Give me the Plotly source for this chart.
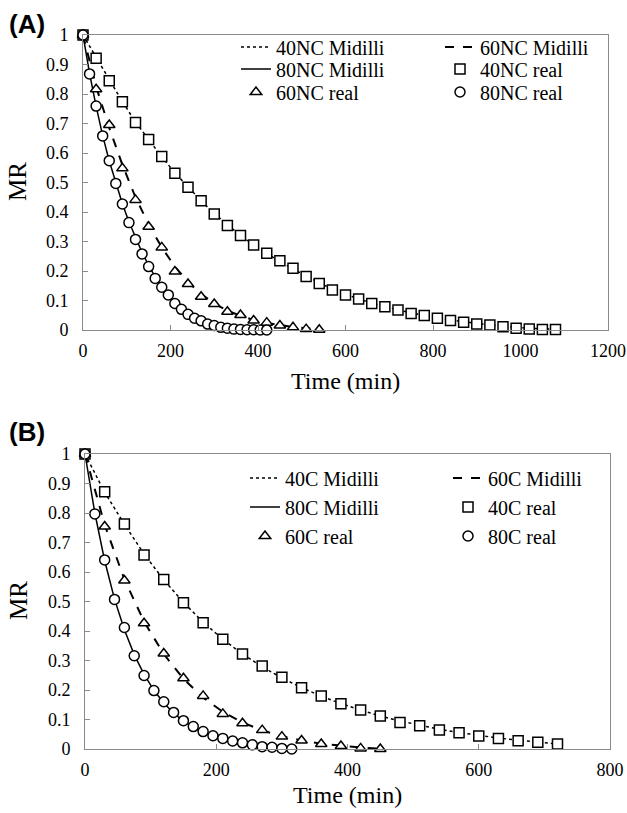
import plotly.graph_objects as go

W, H = 627, 813

# ---------------- Panel A data ----------------
t_40nc = list(range(0, 1110, 30))
mr_40nc_real = [1.0, 0.921, 0.845, 0.774, 0.703, 0.646, 0.588, 0.531, 0.484, 0.438,
                0.393, 0.354, 0.320, 0.288, 0.260, 0.235, 0.209, 0.181, 0.158, 0.136,
                0.119, 0.105, 0.090, 0.079, 0.068, 0.056, 0.049, 0.040, 0.032, 0.026,
                0.020, 0.017, 0.011, 0.006, 0.003, 0.002, 0.002]
mr_40nc_midilli = [1.0, 0.925, 0.847, 0.774, 0.705, 0.644, 0.587, 0.533, 0.484, 0.438,
                   0.395, 0.356, 0.320, 0.288, 0.259, 0.232, 0.207, 0.183, 0.160, 0.139,
                   0.121, 0.105, 0.091, 0.079, 0.068, 0.058, 0.049, 0.041, 0.034, 0.028,
                   0.022, 0.017, 0.013, 0.009, 0.006, 0.004, 0.003]

t_60nc = list(range(0, 570, 30))
mr_60nc_real = [1.0, 0.816, 0.695, 0.548, 0.441, 0.350, 0.280, 0.198, 0.156, 0.113,
                0.088, 0.062, 0.051, 0.032, 0.025, 0.015, 0.009, 0.003, 0.001]
mr_60nc_midilli = [1.0, 0.825, 0.685, 0.560, 0.450, 0.358, 0.280, 0.215, 0.163, 0.122,
                   0.090, 0.066, 0.048, 0.034, 0.024, 0.016, 0.010, 0.006, 0.003]

t_80nc = list(range(0, 435, 15))
mr_80nc_real = [1.0, 0.868, 0.759, 0.658, 0.574, 0.497, 0.427, 0.364, 0.307, 0.258,
                0.215, 0.175, 0.145, 0.119, 0.090, 0.070, 0.053, 0.040, 0.031, 0.020,
                0.015, 0.009, 0.006, 0.003, 0.002, 0.001, 0.001, 0.0, 0.0]
mr_80nc_midilli = [1.0, 0.870, 0.758, 0.659, 0.573, 0.496, 0.428, 0.367, 0.312, 0.263,
                   0.219, 0.180, 0.147, 0.118, 0.093, 0.072, 0.055, 0.041, 0.030, 0.021,
                   0.014, 0.009, 0.006, 0.004, 0.002, 0.001, 0.001, 0.0, 0.0]

# ---------------- Panel B data ----------------
t_40c = list(range(0, 750, 30))
mr_40c_real = [1.0, 0.872, 0.763, 0.658, 0.575, 0.496, 0.428, 0.372, 0.322, 0.281,
               0.243, 0.208, 0.180, 0.153, 0.132, 0.112, 0.090, 0.079, 0.064, 0.055,
               0.044, 0.036, 0.028, 0.023, 0.017]
mr_40c_midilli = [1.0, 0.870, 0.762, 0.661, 0.573, 0.497, 0.430, 0.372, 0.322, 0.279,
                  0.241, 0.208, 0.179, 0.154, 0.132, 0.112, 0.095, 0.080, 0.067, 0.056,
                  0.046, 0.037, 0.030, 0.023, 0.017]

t_60c = list(range(0, 480, 30))
mr_60c_real = [1.0, 0.754, 0.571, 0.426, 0.324, 0.240, 0.180, 0.119, 0.087, 0.064,
               0.042, 0.029, 0.017, 0.010, 0.002, 0.0]
mr_60c_midilli = [1.0, 0.760, 0.575, 0.432, 0.322, 0.238, 0.174, 0.126, 0.090, 0.063,
                  0.043, 0.029, 0.018, 0.011, 0.005, 0.001]

t_80c = list(range(0, 330, 15))
mr_80c_real = [1.0, 0.797, 0.641, 0.507, 0.412, 0.316, 0.249, 0.198, 0.160, 0.124,
               0.096, 0.076, 0.059, 0.045, 0.036, 0.027, 0.021, 0.014, 0.008, 0.006,
               0.002, 0.0]
mr_80c_midilli = [1.0, 0.800, 0.638, 0.508, 0.404, 0.320, 0.253, 0.199, 0.156, 0.122,
                  0.095, 0.073, 0.056, 0.043, 0.032, 0.024, 0.017, 0.012, 0.008, 0.005,
                  0.003, 0.001]

x_ticks_a = [0, 200, 400, 600, 800, 1000, 1200]
x_ticks_b = [0, 200, 400, 600, 800]
y_ticks = [0, 0.1, 0.2, 0.3, 0.4, 0.5, 0.6, 0.7, 0.8, 0.9, 1]
y_tick_text = ["0", "0.1", "0.2", "0.3", "0.4", "0.5", "0.6", "0.7", "0.8", "0.9", "1"]

SERIF = "Liberation Serif, Times New Roman, serif"
SANS = "Liberation Sans, Arial, sans-serif"

def px_x(p):
    return p / W

def px_y(p):
    return 1 - p / H

fig = go.Figure()

def line_trace(x, y, name, dash, width, xa, ya, legend):
    return go.Scatter(x=x, y=y, mode="lines", name=name,
                      line=dict(color="black", dash=dash, width=width),
                      xaxis=xa, yaxis=ya, legend=legend, cliponaxis=False)

def marker_trace(x, y, name, symbol, size, xa, ya, legend):
    return go.Scatter(x=x, y=y, mode="markers", name=name,
                      marker=dict(symbol=symbol, size=size, color="white",
                                  line=dict(color="black", width=1.5)),
                      xaxis=xa, yaxis=ya, legend=legend, cliponaxis=False)

# Panel A
fig.add_trace(line_trace(t_40nc, mr_40nc_midilli, "40NC Midilli", "dot", 1.5, "x", "y", "legend"))
fig.add_trace(line_trace(t_60nc, mr_60nc_midilli, "60NC Midilli", "dash", 2, "x", "y", "legend2"))
fig.add_trace(line_trace(t_80nc, mr_80nc_midilli, "80NC Midilli", "solid", 1.5, "x", "y", "legend3"))
fig.add_trace(marker_trace(t_40nc, mr_40nc_real, "40NC real", "square", 10, "x", "y", "legend4"))
fig.add_trace(marker_trace(t_60nc, mr_60nc_real, "60NC real", "triangle-up", 10, "x", "y", "legend5"))
fig.add_trace(marker_trace(t_80nc, mr_80nc_real, "80NC real", "circle", 10, "x", "y", "legend6"))

# Panel B
fig.add_trace(line_trace(t_40c, mr_40c_midilli, "40C Midilli", "dot", 1.5, "x2", "y2", "legend7"))
fig.add_trace(line_trace(t_60c, mr_60c_midilli, "60C Midilli", "dash", 2, "x2", "y2", "legend8"))
fig.add_trace(line_trace(t_80c, mr_80c_midilli, "80C Midilli", "solid", 1.5, "x2", "y2", "legend9"))
fig.add_trace(marker_trace(t_40c, mr_40c_real, "40C real", "square", 10, "x2", "y2", "legend10"))
fig.add_trace(marker_trace(t_60c, mr_60c_real, "60C real", "triangle-up", 10, "x2", "y2", "legend11"))
fig.add_trace(marker_trace(t_80c, mr_80c_real, "80C real", "circle", 10, "x2", "y2", "legend12"))

axis_common = dict(showline=True, mirror=True, linecolor="#8a8a8a", linewidth=1,
                   ticks="inside", ticklen=5, tickcolor="#8a8a8a", showgrid=False,
                   zeroline=False, automargin=False,
                   tickfont=dict(family=SERIF, size=18, color="black"))

# legend positions: (text-left px, row-centre px)
leg_pos = {
    "legend": (276, 47), "legend2": (480, 47),
    "legend3": (276, 69), "legend4": (480, 69),
    "legend5": (276, 92), "legend6": (480, 92),
    "legend7": (285, 478), "legend8": (488, 478),
    "legend9": (285, 507), "legend10": (488, 507),
    "legend11": (285, 536), "legend12": (488, 536),
}
legends = {}
for k, (tx, ty) in leg_pos.items():
    legends[k] = dict(x=px_x(tx - 40), y=px_y(ty), xanchor="left", yanchor="middle",
                      xref="paper", yref="paper", bgcolor="rgba(0,0,0,0)",
                      borderwidth=0, font=dict(family=SERIF, size=20, color="black"))

fig.update_layout(
    width=W, height=H,
    margin=dict(l=0, r=0, t=0, b=0, pad=0, autoexpand=False),
    paper_bgcolor="white", plot_bgcolor="white",
    showlegend=True,
    xaxis=dict(domain=[px_x(83), px_x(608)], range=[0, 1200], tickvals=x_ticks_a,
               anchor="y", ticklabelstandoff=4, **axis_common),
    yaxis=dict(domain=[px_y(330), px_y(35)], range=[0, 1], tickvals=y_ticks,
               ticktext=y_tick_text, anchor="x", ticklabelstandoff=10, **axis_common),
    xaxis2=dict(domain=[px_x(85), px_x(610)], range=[0, 800], tickvals=x_ticks_b,
                anchor="y2", ticklabelstandoff=4, **axis_common),
    yaxis2=dict(domain=[px_y(749), px_y(454)], range=[0, 1], tickvals=y_ticks,
                ticktext=y_tick_text, anchor="x2", ticklabelstandoff=10, **axis_common),
    **legends,
)

annos = [
    dict(text="<b>(A)</b>", x=px_x(7), y=px_y(24), xanchor="left", yanchor="middle",
         font=dict(family=SANS, size=26, color="black")),
    dict(text="<b>(B)</b>", x=px_x(7), y=px_y(432), xanchor="left", yanchor="middle",
         font=dict(family=SANS, size=26, color="black")),
    dict(text="Time (min)", x=px_x(345), y=px_y(381), xanchor="center", yanchor="middle",
         font=dict(family=SERIF, size=24, color="black")),
    dict(text="Time (min)", x=px_x(347), y=px_y(795), xanchor="center", yanchor="middle",
         font=dict(family=SERIF, size=24, color="black")),
    dict(text="MR", x=px_x(18), y=px_y(182), xanchor="center", yanchor="middle",
         textangle=-90, font=dict(family=SERIF, size=25, color="black")),
    dict(text="MR", x=px_x(18), y=px_y(601), xanchor="center", yanchor="middle",
         textangle=-90, font=dict(family=SERIF, size=25, color="black")),
]
for a in annos:
    a.update(xref="paper", yref="paper", showarrow=False)
    fig.add_annotation(**a)

fig.write_html("out.html", config={"displayModeBar": False},
               post_script="document.body.style.margin='0';document.body.style.padding='0';")
